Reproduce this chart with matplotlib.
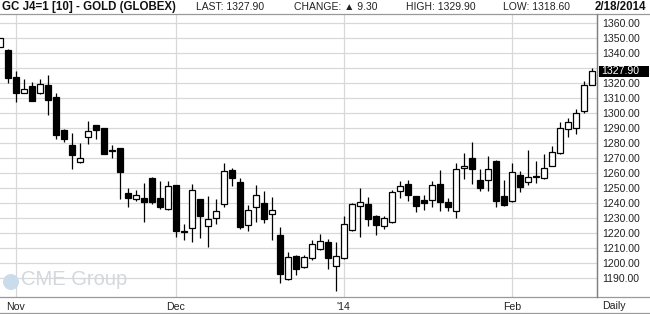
import numpy as np
import matplotlib.pyplot as plt
from matplotlib.patches import Rectangle, Ellipse
from matplotlib.lines import Line2D

plt.rcParams['font.family'] = ['Liberation Sans', 'DejaVu Sans']

# daily OHLC, GC J4 (first candle is cut by the left edge)
opens = [1344.4, 1342.2, 1324.2, 1313.8, 1318.0, 1313.6, 1318.9, 1310.9, 1288.9, 1278.9,
         1267.3, 1284.0, 1292.0, 1290.0, 1275.3, 1276.7, 1246.7, 1243.1, 1243.6, 1256.9,
         1243.6, 1236.0, 1252.0, 1221.5, 1223.3, 1242.8, 1224.7, 1230.0, 1239.3, 1262.2,
         1254.0, 1225.3, 1237.3, 1240.2, 1232.7, 1218.9, 1189.3, 1204.7, 1197.3, 1203.3,
         1209.8, 1214.0, 1198.2, 1203.3, 1222.0, 1238.2, 1239.6, 1231.6, 1224.7, 1227.3,
         1248.0, 1252.9, 1244.7, 1242.2, 1242.0, 1252.9, 1240.9, 1234.7, 1263.3, 1270.4,
         1255.6, 1255.3, 1268.4, 1244.9, 1241.8, 1258.7, 1254.0, 1258.1, 1256.7, 1264.7,
         1273.3, 1289.6, 1290.2, 1301.3, 1318.6]
highs = [1350.4, 1343.0, 1328.2, 1322.7, 1320.7, 1322.9, 1325.8, 1313.8, 1289.2, 1286.7,
         1280.0, 1294.9, 1292.3, 1290.3, 1279.1, 1277.0, 1250.2, 1248.9, 1253.6, 1257.2,
         1254.9, 1254.9, 1252.3, 1226.2, 1252.9, 1243.1, 1244.9, 1242.9, 1266.9, 1263.6,
         1256.9, 1238.7, 1252.4, 1248.2, 1244.0, 1224.0, 1207.3, 1205.6, 1205.6, 1215.6,
         1219.3, 1216.0, 1214.0, 1231.3, 1240.4, 1250.2, 1244.0, 1231.9, 1231.3, 1248.7,
         1254.9, 1255.6, 1245.0, 1245.3, 1254.9, 1262.2, 1243.6, 1266.9, 1273.6, 1280.5,
         1262.9, 1271.8, 1268.9, 1255.6, 1266.9, 1261.3, 1275.6, 1268.0, 1272.9, 1278.2,
         1294.0, 1296.9, 1303.1, 1321.6, 1329.9]
lows = [1344.0, 1320.4, 1307.8, 1313.3, 1308.2, 1312.9, 1299.1, 1282.7, 1281.1, 1263.1,
        1267.0, 1279.8, 1282.9, 1273.0, 1270.0, 1243.1, 1237.6, 1241.8, 1227.6, 1239.6,
        1236.4, 1235.8, 1217.8, 1215.8, 1214.0, 1217.1, 1211.1, 1226.4, 1237.8, 1251.8,
        1223.1, 1221.3, 1227.8, 1227.1, 1215.6, 1186.7, 1189.0, 1192.4, 1196.7, 1202.0,
        1209.1, 1196.0, 1181.8, 1203.0, 1221.8, 1217.6, 1224.7, 1218.9, 1223.1, 1227.0,
        1243.3, 1241.8, 1234.0, 1235.8, 1237.8, 1235.1, 1235.1, 1230.4, 1256.4, 1252.5,
        1248.4, 1248.4, 1237.8, 1238.4, 1240.7, 1247.3, 1252.0, 1253.3, 1256.0, 1264.5,
        1273.1, 1284.0, 1286.0, 1300.0, 1318.6]
closes = [1350.2, 1323.7, 1313.8, 1316.0, 1308.4, 1319.6, 1309.1, 1285.8, 1282.9, 1272.4,
          1270.4, 1288.0, 1288.7, 1273.1, 1274.9, 1260.7, 1243.8, 1245.3, 1241.1, 1241.1,
          1237.8, 1251.3, 1221.8, 1220.8, 1249.0, 1231.8, 1229.3, 1234.7, 1261.3, 1257.1,
          1224.4, 1235.3, 1245.6, 1229.8, 1235.3, 1193.1, 1204.0, 1196.4, 1204.0, 1212.9,
          1214.9, 1203.3, 1204.9, 1226.2, 1239.6, 1240.9, 1229.6, 1225.6, 1230.0, 1247.3,
          1251.3, 1245.3, 1238.0, 1240.0, 1252.0, 1241.1, 1237.8, 1262.7, 1264.9, 1263.0,
          1250.4, 1262.9, 1241.8, 1239.1, 1260.7, 1251.1, 1257.3, 1257.3, 1263.3, 1274.4,
          1290.0, 1294.4, 1300.0, 1318.7, 1327.9]

month_labels = ["Nov", "Dec", "'14", "Feb"]
month_start_idx = [2, 22, 43, 64]
price_ticks = np.arange(1190, 1361, 10)

title = "GC J4=1 [10] - GOLD (GLOBEX)"
last_price, change, day_high, day_low = 1327.90, 9.30, 1329.90, 1318.60
date_str = "2/18/2014"

W, H = 650, 314
fig = plt.figure(figsize=(W / 100, H / 100), dpi=100)


def fx(px):
    return px / W


def fy(py):
    return 1 - py / H


ax = fig.add_axes([0, fy(296.7), fx(597), fy(15) - fy(296.7)])
ax.set_xlim(0.04, 74.66)
ax.set_ylim(1177.7, 1365.5)

o = np.array(opens)
h = np.array(highs)
l = np.array(lows)
c = np.array(closes)
x = np.arange(len(o))
up = c >= o
bottom = np.minimum(o, c)
height = np.maximum(np.abs(c - o), 0.3)

ax.vlines(x, l, h, color='black', lw=0.9, zorder=2)
ax.bar(x[up], height[up], bottom=bottom[up], width=0.78, facecolor='white',
       edgecolor='black', lw=0.9, zorder=3)
ax.bar(x[~up], height[~up], bottom=bottom[~up], width=0.78, facecolor='black',
       edgecolor='black', lw=0.9, zorder=3)

# grid + axes
ax.set_yticks(price_ticks)
ax.set_yticklabels(['' if abs(p - last_price) < 5 else f'{p:.2f}' for p in price_ticks])
ax.yaxis.tick_right()
ax.set_xticks(month_start_idx, month_labels)
ax.tick_params(axis='y', length=0, pad=4, labelsize=7.6, labelcolor='#222222')
ax.tick_params(axis='x', length=0, pad=3.5, labelsize=7.6, labelcolor='#222222')
ax.grid(True, color='#d8d8d8', lw=0.9, zorder=0)
ax.set_axisbelow(True)
for side in ['top', 'left', 'bottom']:
    ax.spines[side].set_visible(False)
ax.spines['right'].set_color('#808080')
ax.spines['right'].set_linewidth(0.9)

# watermark
ax.text(0.036, 0.06, 'CME Group', transform=ax.transAxes, fontsize=14.5,
        color='#d3d8de', va='center', ha='left', zorder=1)
fig.patches.append(Ellipse((fx(11), fy(282)), 16 / W, 16 / H, transform=fig.transFigure,
                           facecolor='#cadcec', edgecolor='none', zorder=1))

# last price marker
ax.add_patch(Rectangle((1.003, last_price - 3.7), 50 / 597, 7.4,
                       transform=ax.get_yaxis_transform(), facecolor='black',
                       edgecolor='none', clip_on=False, zorder=5))
ax.text(1.0 + 4 / 597, last_price, f'{last_price:.2f}', transform=ax.get_yaxis_transform(),
        color='white', fontsize=7.6, va='center', ha='left', zorder=6)

# frame lines
for yy in [14.3, 296.7, 312.7]:
    fig.add_artist(Line2D([0, 1], [fy(yy), fy(yy)], color='#999999', lw=0.9,
                          transform=fig.transFigure))
fig.add_artist(Line2D([fx(597), fx(597)], [fy(296.7), fy(14.3)], color='#808080', lw=0.9,
                      transform=fig.transFigure))

# header
hy = fy(7)
fig.text(fx(2), hy, title, fontsize=8.3, fontweight='bold', va='center', color='#111111')
fig.text(fx(196), hy, f'LAST: {last_price:.2f}', fontsize=7.5, va='center', color='#222222')
fig.text(fx(294), hy, f'CHANGE: \u25b2 {change:.2f}', fontsize=7.5, va='center', color='#222222')
fig.text(fx(406), hy, f'HIGH: {day_high:.2f}', fontsize=7.5, va='center', color='#222222')
fig.text(fx(503), hy, f'LOW: {day_low:.2f}', fontsize=7.5, va='center', color='#222222')
fig.text(fx(646), hy, date_str, fontsize=8.3, fontweight='bold', va='center', ha='right',
         color='#111111')
fig.text(fx(602), fy(306), 'Daily', fontsize=7.6, va='center', color='#222222')

fig.savefig('out.png', dpi=100, facecolor='white')
